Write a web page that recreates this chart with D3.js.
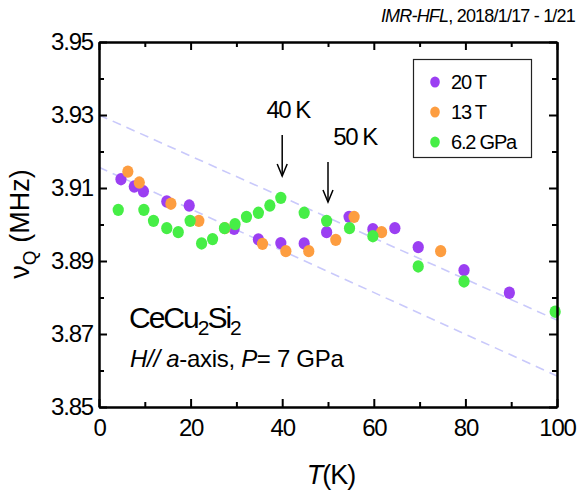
<!DOCTYPE html>
<html><head><meta charset="utf-8">
<script src="https://cdn.jsdelivr.net/npm/d3@7"></script>
<style>
body{margin:0;background:#fff;}
text{font-family:"Liberation Sans",Arial,sans-serif;fill:#000;}
</style></head>
<body>
<svg id="chart" width="581" height="492"></svg>
<script>
// ---- data ----
const seriesNames = ["20 T", "13 T", "6.2 GPa"];
const seriesColors = ["#9b3ff2", "#fd9d40", "#46ee46"];
const T20 = [4.8,7.7,9.7,14.8,19.7,29.5,34.8,39.7,44.8,49.7,54.6,59.8,64.6,69.7,79.7,89.6];
const v20 = [3.9124,3.9104,3.9091,3.9063,3.9052,3.8988,3.8959,3.8949,3.8948,3.8979,3.9021,3.8987,3.8990,3.8938,3.8875,3.8813];
const T13 = [6.3,8.8,15.7,21.8,27.5,35.7,40.8,45.8,51.7,55.7,61.7,74.6];
const v13 = [3.9145,3.9115,3.9057,3.9010,3.8990,3.8947,3.8927,3.8927,3.8958,3.9021,3.8979,3.8927];
const Tp = [4.2,9.8,11.9,14.8,17.3,19.9,22.4,24.8,27.4,29.7,32.2,34.8,37.3,39.7,44.8,49.7,54.7,59.8,69.7,79.7,99.6];
const vp = [3.9040,3.9040,3.9010,3.8990,3.8979,3.9010,3.8948,3.8960,3.8990,3.9001,3.9021,3.9032,3.9052,3.9073,3.9032,3.9010,3.8990,3.8968,3.8885,3.8844,3.8761];
const guideA = [[0,3.9300],[100,3.8738]];
const guideB = [[0,3.9157],[100,3.8585]];
const xMajor = [0,20,40,60,80,100];
const xMinor = [10,30,50,70,90];
const yMajor = [3.85,3.87,3.89,3.91,3.93,3.95];
const yMinor = [3.86,3.88,3.90,3.92,3.94];
const arrowsT = [40, 50];
const arrowLabels = ["40 K", "50 K"];

// ---- layout ----
const svg = d3.select("#chart");
const L = 99, R = 557, Tp0 = 42, B = 407;
const x = d3.scaleLinear().domain([0,100]).range([L,R]);
const y = d3.scaleLinear().domain([3.85,3.95]).range([B,Tp0]);

// guide lines
const line = d3.line().x(d=>x(d[0])).y(d=>y(d[1]));
[guideA, guideB].forEach(g=>{
  svg.append("path").attr("d", line(g)).attr("fill","none")
    .attr("stroke","#c9c9fb").attr("stroke-width",1.6).attr("stroke-dasharray","9,6");
});

// points
const sets = [[T20,v20],[T13,v13],[Tp,vp]];
sets.forEach((s,i)=>{
  svg.append("g").selectAll("ellipse").data(s[0].map((t,j)=>[t,s[1][j]]))
    .join("ellipse").attr("cx",d=>x(d[0])).attr("cy",d=>y(d[1]))
    .attr("rx",5.6).attr("ry",6.2).attr("fill",seriesColors[i]);
});

// axes (inward ticks)
function styleAxis(g){
  g.select(".domain").attr("stroke","#000").attr("stroke-width",2);
  g.selectAll(".tick line").attr("stroke","#000").attr("stroke-width",2);
  g.selectAll("text").style("font-family","Liberation Sans, Arial, sans-serif")
    .style("font-size","24px").style("letter-spacing","-1.2px").attr("fill","#000");
}
svg.append("g").attr("transform",`translate(0,${B})`)
  .call(d3.axisBottom(x).tickValues(xMajor).tickSize(-8).tickPadding(12).tickSizeOuter(0).tickFormat(d3.format("d")))
  .call(styleAxis);
svg.append("g").attr("transform",`translate(0,${B})`)
  .call(d3.axisBottom(x).tickValues(xMinor).tickSize(-5).tickFormat("").tickSizeOuter(0)).call(styleAxis);
svg.append("g").attr("transform",`translate(0,${Tp0})`)
  .call(d3.axisTop(x).tickValues(xMajor).tickSize(-8).tickFormat("").tickSizeOuter(0)).call(styleAxis);
svg.append("g").attr("transform",`translate(0,${Tp0})`)
  .call(d3.axisTop(x).tickValues(xMinor).tickSize(-5).tickFormat("").tickSizeOuter(0)).call(styleAxis);
svg.append("g").attr("transform",`translate(${L},0)`)
  .call(d3.axisLeft(y).tickValues(yMajor).tickSize(-8).tickPadding(6).tickSizeOuter(0).tickFormat(d3.format(".2f")))
  .call(styleAxis);
svg.append("g").attr("transform",`translate(${L},0)`)
  .call(d3.axisLeft(y).tickValues(yMinor).tickSize(-5).tickFormat("").tickSizeOuter(0)).call(styleAxis);
svg.append("g").attr("transform",`translate(${R},0)`)
  .call(d3.axisRight(y).tickValues(yMajor).tickSize(-8).tickFormat("").tickSizeOuter(0)).call(styleAxis);
svg.append("g").attr("transform",`translate(${R},0)`)
  .call(d3.axisRight(y).tickValues(yMinor).tickSize(-5).tickFormat("").tickSizeOuter(0)).call(styleAxis);

// axis titles
const xt = svg.append("text").attr("x",331).attr("y",484).attr("text-anchor","middle")
  .style("font-size","27px").style("letter-spacing","-1px");
xt.append("tspan").attr("font-style","italic").text("T");
xt.append("tspan").text("(K)");
const yt = svg.append("text").attr("transform","translate(29,224) rotate(-90)").attr("text-anchor","middle")
  .style("font-size","27px");
yt.append("tspan").text("ν");
yt.append("tspan").attr("dy",7).style("font-size","19px").text("Q");
yt.append("tspan").attr("dy",-7).text(" (MHz)");

// arrows
arrowsT.forEach((t,i)=>{
  const ax = x(t);
  const yTop = i===0 ? 135 : 162, yBot = i===0 ? 176 : 202;
  svg.append("line").attr("x1",ax).attr("x2",ax).attr("y1",yTop).attr("y2",yBot)
    .attr("stroke","#000").attr("stroke-width",1.5);
  svg.append("path").attr("d",`M${ax-5},${yBot-12}L${ax},${yBot}L${ax+5},${yBot-12}`)
    .attr("fill","none").attr("stroke","#000").attr("stroke-width",1.5);
  svg.append("text").attr("x", ax + (i===0?6:27)).attr("y", i===0?118:145).attr("text-anchor","middle")
    .style("font-size","24px").style("letter-spacing","-1.5px").text(arrowLabels[i]);
});

// legend
svg.append("rect").attr("x",413.5).attr("y",59.5).attr("width",118).attr("height",98)
  .attr("fill","#fff").attr("stroke","#222").attr("stroke-width",1.2);
seriesNames.forEach((n,i)=>{
  const ly = 82 + i*30;
  svg.append("ellipse").attr("cx",435).attr("cy",ly).attr("rx",4.8).attr("ry",5.5).attr("fill",seriesColors[i]);
  svg.append("text").attr("x",451).attr("y",ly+7).style("font-size","20px").style("letter-spacing","-1.2px").text(n);
});

// annotations
const c = svg.append("text").attr("x",129).attr("y",328).style("font-size","30px").style("letter-spacing","-2px");
c.append("tspan").text("CeCu");
c.append("tspan").attr("dy",7).style("font-size","21px").text("2");
c.append("tspan").attr("dy",-7).text("Si");
c.append("tspan").attr("dy",7).style("font-size","21px").text("2");
const h = svg.append("text").attr("x",130).attr("y",367).style("font-size","24px").style("letter-spacing","-0.3px");
h.append("tspan").attr("font-style","italic").text("H//");
h.append("tspan").text(" ");
h.append("tspan").attr("font-style","italic").text("a");
h.append("tspan").text("-axis, ");
h.append("tspan").attr("font-style","italic").text("P");
h.append("tspan").text("= 7 GPa");

const s = svg.append("text").attr("x",575).attr("y",22).attr("text-anchor","end").style("font-size","18px").style("letter-spacing","-0.8px");
s.append("tspan").attr("font-style","italic").text("IMR-HFL");
s.append("tspan").text(", 2018/1/17 - 1/21");
</script>
</body></html>
